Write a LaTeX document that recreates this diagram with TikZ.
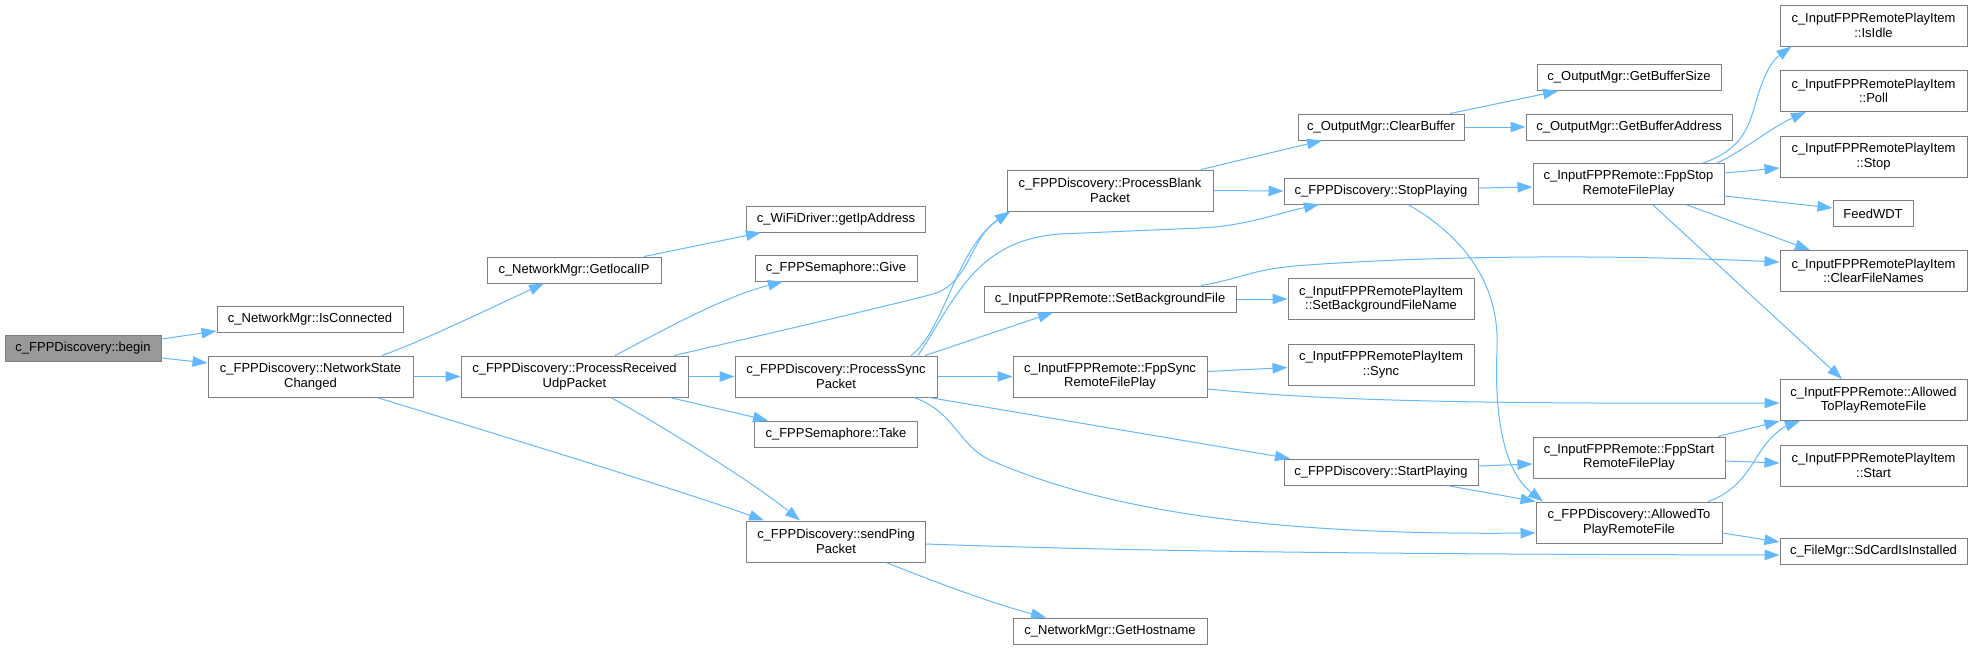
\documentclass[tikz,border=0pt]{standalone}
\usepackage{fontspec}
\setmainfont{Liberation Sans}
\usetikzlibrary{arrows.meta}
\definecolor{edgecol}{HTML}{63B8FF}
\definecolor{nodeborder}{HTML}{7F7F7F}
\definecolor{rootfill}{HTML}{999999}
\tikzset{
  box/.style={draw=nodeborder, fill=white, line width=1pt, inner sep=0pt, minimum height=26pt, align=center, font=\fontsize{13}{14.5}\selectfont},
  box2/.style={box, minimum height=41pt},
  edge/.style={draw=edgecol, line width=1pt, -{Triangle[length=15pt,width=10.5pt]}}
}
\begin{document}
\begin{tikzpicture}[x=1pt,y=-1pt]
\useasboundingbox (0,0) rectangle (1972,649);
% nodes
\node[box, minimum width=156pt, fill=rootfill] (begin) at (83,348.5) {c\_FPPDiscovery::begin};
\node[box, minimum width=186pt] (isconn) at (310,319) {c\_NetworkMgr::IsConnected};
\node[box2, minimum width=205pt] (nsc) at (310.5,376.5) {c\_FPPDiscovery::NetworkState\\Changed};
\node[box, minimum width=174pt] (getlocal) at (574,270) {c\_NetworkMgr::GetlocalIP};
\node[box2, minimum width=227pt] (pru) at (574.5,376.5) {c\_FPPDiscovery::ProcessReceived\\UdpPacket};
\node[box, minimum width=179pt] (wifi) at (836,219) {c\_WiFiDriver::getIpAddress};
\node[box, minimum width=162pt] (give) at (836,268) {c\_FPPSemaphore::Give};
\node[box2, minimum width=202pt] (psp) at (836,376.5) {c\_FPPDiscovery::ProcessSync\\Packet};
\node[box, minimum width=163pt] (take) at (836,434) {c\_FPPSemaphore::Take};
\node[box2, minimum width=179pt] (ping) at (836,541.5) {c\_FPPDiscovery::sendPing\\Packet};
\node[box2, minimum width=206pt] (pbp) at (1110,190.5) {c\_FPPDiscovery::ProcessBlank\\Packet};
\node[box, minimum width=252pt] (sbf) at (1110,299) {c\_InputFPPRemote::SetBackgroundFile};
\node[box2, minimum width=194pt] (fsync) at (1110,376.5) {c\_InputFPPRemote::FppSync\\RemoteFilePlay};
\node[box, minimum width=194pt] (host) at (1110,631) {c\_NetworkMgr::GetHostname};
\node[box, minimum width=166pt] (clear) at (1381,127) {c\_OutputMgr::ClearBuffer};
\node[box, minimum width=194pt] (stop) at (1381,191) {c\_FPPDiscovery::StopPlaying};
\node[box2, minimum width=186pt] (sbfn) at (1381,299) {c\_InputFPPRemotePlayItem\\::SetBackgroundFileName};
\node[box2, minimum width=186pt] (sync) at (1381,364.5) {c\_InputFPPRemotePlayItem\\::Sync};
\node[box, minimum width=194pt] (start) at (1381,472) {c\_FPPDiscovery::StartPlaying};
\node[box, minimum width=184pt] (gbs) at (1629,77.5) {c\_OutputMgr::GetBufferSize};
\node[box, minimum width=206pt] (gba) at (1629,127) {c\_OutputMgr::GetBufferAddress};
\node[box2, minimum width=191pt] (fstop) at (1628.5,184) {c\_InputFPPRemote::FppStop\\RemoteFilePlay};
\node[box2, minimum width=192pt] (fstart) at (1629,457.5) {c\_InputFPPRemote::FppStart\\RemoteFilePlay};
\node[box2, minimum width=186pt] (allowed) at (1629,522.5) {c\_FPPDiscovery::AllowedTo\\PlayRemoteFile};
\node[box2, minimum width=187pt] (isidle) at (1873.5,25.5) {c\_InputFPPRemotePlayItem\\::IsIdle};
\node[box2, minimum width=187pt] (poll) at (1873.5,91) {c\_InputFPPRemotePlayItem\\::Poll};
\node[box2, minimum width=187pt] (istop) at (1873.5,156.5) {c\_InputFPPRemotePlayItem\\::Stop};
\node[box, minimum width=80pt] (feed) at (1873,213.5) {FeedWDT};
\node[box2, minimum width=187pt] (cfn) at (1873.5,271) {c\_InputFPPRemotePlayItem\\::ClearFileNames};
\node[box2, minimum width=187pt] (allowin) at (1873.5,400) {c\_InputFPPRemote::Allowed\\ToPlayRemoteFile};
\node[box2, minimum width=187pt] (istart) at (1873.5,465.5) {c\_InputFPPRemotePlayItem\\::Start};
\node[box, minimum width=187pt] (sdcard) at (1873.5,551) {c\_FileMgr::SdCardIsInstalled};
% edges
\draw[edge] ([yshift=9.5]begin.east) -- ([yshift=-12]isconn.west);
\draw[edge] ([yshift=-9.5]begin.east) -- ([yshift=13.5]nsc.west);
\draw[edge] ([xshift=71.5]nsc.north) .. controls (420,342) and (480,313) .. ([xshift=-30]getlocal.south);
\draw[edge] (nsc.east) -- (pru.west);
\draw[edge] ([xshift=66.5]nsc.south) .. controls (450,420) and (680,490) .. ([xshift=-72]ping.north);
\draw[edge] ([xshift=70]getlocal.north) -- ([xshift=-75]wifi.south);
\draw[edge] ([xshift=40.5]pru.north) .. controls (660,332) and (720,298) .. ([xshift=-53]give.south);
\draw[edge] ([xshift=99.5]pru.north) .. controls (780,331) and (900,303) .. (933,294) .. controls (970,283) and (970,238) .. ([xshift=-100]pbp.south);
\draw[edge] (pru.east) -- (psp.west);
\draw[edge] ([xshift=95.5]pru.south) -- ([xshift=-68]take.north);
\draw[edge] ([xshift=36.5]pru.south) .. controls (660,425) and (750,480) .. ([xshift=-36]ping.north);
\draw[edge] ([xshift=75]psp.north) .. controls (945,330) and (955,250) .. ([xshift=-100]pbp.south);
\draw[edge] ([xshift=82]psp.north) .. controls (955,300) and (975,240) .. (1060,234) -- (1200,228) .. controls (1245,226) and (1275,214) .. ([xshift=-62]stop.south);
\draw[edge] ([xshift=89]psp.north) -- ([xshift=-57]sbf.south);
\draw[edge] (psp.east) -- (fsync.west);
\draw[edge] ([xshift=93]psp.south) -- ([xshift=-91]start.north);
\draw[edge] ([xshift=78]psp.south) .. controls (955,412) and (958,445) .. (990,460) .. controls (1120,517) and (1300,535) .. ([yshift=-10.5]allowed.west);
\draw[edge] ([xshift=91]pbp.north) -- ([xshift=-59]clear.south);
\draw[edge] (pbp.east) -- (stop.west);
\draw[edge] ([xshift=69]clear.north) -- ([xshift=-71]gbs.south);
\draw[edge] (clear.east) -- (gba.west);
\draw[edge] ([yshift=3]stop.east) -- ([yshift=-3]fstop.west);
\draw[edge] ([xshift=27]stop.south) .. controls (1470,240) and (1500,290) .. (1497,350) .. controls (1494,420) and (1505,472) .. ([xshift=-86]allowed.north);
\draw[edge] (sbf.east) -- (sbfn.west);
\draw[edge] ([xshift=91]sbf.north) .. controls (1240,279) and (1250,270) .. (1295,266) .. controls (1420,256) and (1600,254) .. ([yshift=9]cfn.west);
\draw[edge] ([yshift=5]fsync.east) -- ([yshift=-3]sync.west);
\draw[edge] ([yshift=-12.5]fsync.east) .. controls (1320,400) and (1450,404) .. ([yshift=-3]allowin.west);
\draw[edge] ([yshift=6]start.east) -- ([yshift=-6.5]fstart.west);
\draw[edge] ([xshift=66]start.south) -- (allowed.north west);
\draw[edge] ([xshift=89]fstart.north) -- (allowin.south west);
\draw[edge] ([yshift=-3.5]fstart.east) -- ([yshift=2.5]istart.west);
\draw[edge] ([xshift=79]allowed.north) .. controls (1742,490) and (1752,462) .. (1765,445) .. controls (1776,431) and (1786,426) .. ([xshift=-73.5]allowin.south);
\draw[edge] ([yshift=-10.5]allowed.east) -- ([yshift=9]sdcard.west);
\draw[edge] ([yshift=-2.5]ping.east) .. controls (1100,550) and (1300,554) .. ([yshift=-4]sdcard.west);
\draw[edge] ([xshift=50]ping.south) .. controls (925,578) and (990,603) .. ([xshift=-64]host.north);
\draw[edge] ([xshift=74.5]fstop.north) .. controls (1740,150) and (1748,130) .. (1755,105) .. controls (1762,80) and (1770,62) .. ([xshift=-82]isidle.south);
\draw[edge] ([xshift=88.5]fstop.north) .. controls (1745,150) and (1770,128) .. ([xshift=-67.5]poll.south);
\draw[edge] ([yshift=11]fstop.east) -- ([yshift=-11.5]istop.west);
\draw[edge] ([yshift=-12]fstop.east) -- ([yshift=5.5]feed.west);
\draw[edge] ([xshift=58.5]fstop.south) -- ([xshift=-63.5]cfn.north);
\draw[edge] ([xshift=24.5]fstop.south) -- ([xshift=-31.5]allowin.north);
\end{tikzpicture}
\end{document}
